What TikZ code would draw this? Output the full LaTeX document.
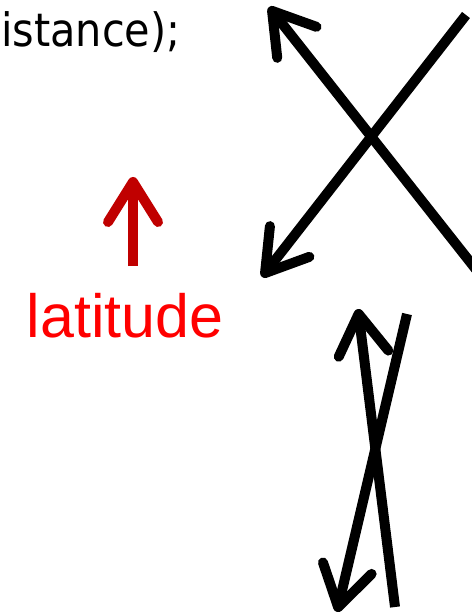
\documentclass[tikz,border=0pt]{standalone}
\usepackage{fontspec}
\usetikzlibrary{arrows.meta}
\newfontfamily\codefont{DejaVu Sans Condensed}
\newfontfamily\labelfont{Liberation Sans}
\definecolor{arrowred}{HTML}{C00000}
\definecolor{labelred}{HTML}{FF0000}

\begin{document}
\begin{tikzpicture}[x=1pt,y=-1pt,
flow/.style={-{Straight Barb[length=40pt,width=50pt,round]},line width=10pt},
code/.style={inner sep=0pt,anchor=base west,font=\codefont\fontsize{46}{50}\selectfont},
axis/.style={inner sep=0pt,anchor=base,text=labelred,font=\labelfont\fontsize{61}{66}\selectfont}]
\useasboundingbox (0,0) rectangle (471,612);
\node[code] (snippet) at (1,47) {istance);};
% crossing arrows, top right
\coordinate (tlTail) at (478,272);
\coordinate (tlTip) at (269,7);
\coordinate (blTail) at (466,15);
\coordinate (blTip) at (262,277);
\draw[flow] (tlTail) -- (tlTip);
\draw[flow] (blTail) -- (blTip);
% latitude marker
\coordinate (latBase) at (133,266);
\coordinate (latTip) at (133,177);
\draw[flow,arrowred] (latBase) -- (latTip);
\node[axis] (latitude) at (125,337) {latitude};
% crossing arrows, bottom
\coordinate (upTail) at (395,607);
\coordinate (upTip) at (358,309);
\coordinate (downTail) at (407,314);
\coordinate (downTip) at (337,612);
\draw[flow] (upTail) -- (upTip);
\draw[flow] (downTail) -- (downTip);
\end{tikzpicture}
\end{document}
